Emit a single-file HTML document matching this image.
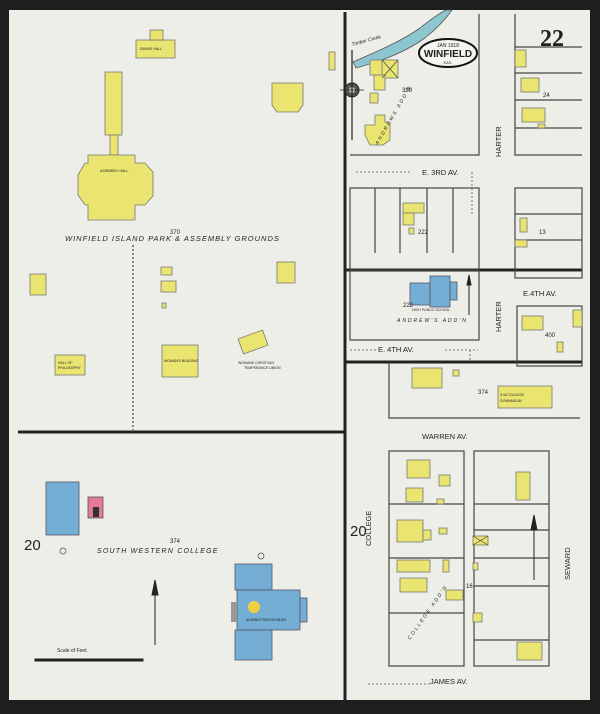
<!DOCTYPE html>
<html><head><meta charset="utf-8"><style>
html,body{margin:0;padding:0;background:#1e1e1e;}
svg{display:block}
text{font-family:"Liberation Sans",sans-serif;fill:#222}
</style></head><body>
<svg width="600" height="714" viewBox="0 0 600 714" xmlns="http://www.w3.org/2000/svg">
<rect x="0" y="0" width="600" height="714" fill="#1e1e1e"/>
<rect x="9" y="10" width="581" height="690" fill="#eeeee9"/>
<g stroke="#222" fill="none">
<line x1="345" y1="12" x2="345" y2="700" stroke-width="3"/>
<line x1="18" y1="432" x2="345" y2="432" stroke-width="3"/>
<line x1="345" y1="270" x2="582" y2="270" stroke-width="3"/>
<line x1="345" y1="362" x2="582" y2="362" stroke-width="3"/>
<g stroke-width="1.2" stroke="#444">
<polyline points="350,155 479,155 479,14"/>
<rect x="350" y="188" width="129" height="82"/>
<rect x="350" y="270" width="129" height="70"/>
<polyline points="515,14 515,155 582,155"/>
<rect x="515" y="188" width="67" height="90"/>
<rect x="517" y="306" width="65" height="60"/>
<line x1="515" y1="47" x2="582" y2="47"/><line x1="515" y1="73" x2="582" y2="73"/><line x1="515" y1="100" x2="582" y2="100"/><line x1="515" y1="128" x2="582" y2="128"/>
<line x1="515" y1="214" x2="582" y2="214"/><line x1="515" y1="240" x2="582" y2="240"/>
<line x1="375" y1="188" x2="375" y2="253"/><line x1="400" y1="188" x2="400" y2="253"/><line x1="427" y1="188" x2="427" y2="253"/><line x1="453" y1="188" x2="453" y2="253"/>
<polyline points="389,362 389,418 580,418"/>
<rect x="389" y="451" width="75" height="215"/>
<rect x="474" y="451" width="75" height="215"/>
<line x1="389" y1="504" x2="464" y2="504"/><line x1="389" y1="558" x2="464" y2="558"/><line x1="389" y1="613" x2="464" y2="613"/>
<line x1="474" y1="504" x2="549" y2="504"/><line x1="474" y1="530" x2="549" y2="530"/><line x1="474" y1="558" x2="549" y2="558"/><line x1="474" y1="586" x2="549" y2="586"/><line x1="474" y1="640" x2="549" y2="640"/>
</g>
<line x1="133" y1="245" x2="133" y2="430" stroke-dasharray="2,2" stroke-width="1"/>
<g stroke-width="0.8" stroke-dasharray="2,2" stroke="#555">
<line x1="368" y1="684" x2="430" y2="684"/><line x1="470" y1="350" x2="470" y2="362"/>
<line x1="356" y1="172" x2="410" y2="172"/><line x1="472" y1="172" x2="472" y2="215"/>
<line x1="350" y1="350" x2="376" y2="350"/><line x1="445" y1="350" x2="478" y2="350"/>
</g>
</g>
<!-- creek -->
<path d="M353,62 C380,50 400,42 420,28 C430,20 438,14 446,10 L452,10 C445,20 435,30 425,38 C405,52 385,60 356,68 Z" fill="#8ec6cf" stroke="#555" stroke-width="0.8"/>
<text x="352" y="46" font-size="5" font-style="italic" transform="rotate(-15 352 46)">Timber Creek</text>
<!-- yellow buildings -->
<g fill="#e9e570" stroke="#777" stroke-width="0.8">
<rect x="136" y="40" width="39" height="18"/><rect x="150" y="30" width="13" height="10"/>
<rect x="105" y="72" width="17" height="63"/><rect x="110" y="135" width="8" height="20"/>
<polygon points="88,155 135,155 135,163 145,163 153,172 153,196 145,205 135,205 135,220 88,220 88,205 85,205 78,195 78,175 85,163 88,163"/>
<rect x="329" y="52" width="6" height="18"/>
<polygon points="272,83 303,83 303,105 298,112 277,112 272,105"/>
<rect x="30" y="274" width="16" height="21"/>
<rect x="161" y="267" width="11" height="8"/><rect x="161" y="281" width="15" height="11"/><rect x="162" y="303" width="4" height="5"/>
<rect x="277" y="262" width="18" height="21"/>
<rect x="55" y="355" width="30" height="20"/>
<rect x="162" y="345" width="36" height="32"/>
<rect x="240" y="334" width="26" height="16" transform="rotate(-20 253 342)"/>
<rect x="370" y="60" width="13" height="15"/><rect x="382" y="60" width="16" height="18"/><rect x="374" y="75" width="11" height="15"/><rect x="370" y="93" width="8" height="10"/>
<polygon points="375,115 385,115 385,122 390,122 390,140 383,145 370,145 365,135 365,125 375,125"/>
<rect x="515" y="50" width="11" height="17"/><rect x="521" y="78" width="18" height="14"/><rect x="522" y="108" width="23" height="14"/><rect x="538" y="124" width="7" height="4"/>
<rect x="520" y="218" width="7" height="14"/><rect x="515" y="240" width="12" height="7"/>
<rect x="403" y="203" width="21" height="10"/><rect x="403" y="213" width="11" height="12"/><rect x="409" y="228" width="5" height="6"/>
<rect x="522" y="316" width="21" height="14"/><rect x="573" y="310" width="9" height="17"/><rect x="557" y="342" width="6" height="10"/>
<rect x="412" y="368" width="30" height="20"/><rect x="453" y="370" width="6" height="6"/>
<rect x="498" y="386" width="54" height="22"/>
<rect x="407" y="460" width="23" height="18"/><rect x="439" y="475" width="11" height="11"/><rect x="406" y="488" width="17" height="14"/><rect x="437" y="499" width="7" height="5"/>
<rect x="397" y="520" width="26" height="22"/><rect x="423" y="530" width="8" height="10"/><rect x="439" y="528" width="8" height="6"/>
<rect x="397" y="560" width="33" height="12"/><rect x="443" y="560" width="6" height="12"/><rect x="400" y="578" width="27" height="14"/><rect x="446" y="590" width="17" height="10"/>
<rect x="473" y="536" width="15" height="9"/><rect x="473" y="563" width="5" height="7"/><rect x="473" y="613" width="9" height="9"/>
<rect x="516" y="472" width="14" height="28"/><rect x="517" y="642" width="25" height="18"/>
</g>
<g stroke="#444" stroke-width="0.7" fill="none">
<path d="M382,60 L398,78 M398,60 L382,78"/><path d="M473,536 L488,545 M488,536 L473,545"/>
<circle cx="63" cy="551" r="3"/><circle cx="261" cy="556" r="3"/>
</g>
<!-- blue -->
<g fill="#74aed4" stroke="#556" stroke-width="0.8">
<rect x="46" y="482" width="33" height="53"/>
<rect x="410" y="283" width="20" height="22"/><rect x="430" y="276" width="20" height="31"/><rect x="450" y="282" width="7" height="18"/>
<rect x="235" y="564" width="37" height="26"/>
<rect x="237" y="590" width="63" height="40"/>
<rect x="300" y="598" width="7" height="24"/>
<rect x="235" y="630" width="37" height="30"/>
</g>
<rect x="231" y="602" width="6" height="20" fill="#999"/>
<circle cx="254" cy="607" r="6" fill="#f0d040"/>
<rect x="88" y="497" width="15" height="21" fill="#e57a98" stroke="#555" stroke-width="0.8"/>
<rect x="93" y="507" width="6" height="10" fill="#333"/>
<!-- oval -->
<ellipse cx="448" cy="53" rx="29" ry="14" fill="#f4f4f0" stroke="#111" stroke-width="2"/>
<text x="448" y="47" font-size="5" text-anchor="middle">JAN 1918</text>
<text x="448" y="57" font-size="10" text-anchor="middle" font-weight="bold">WINFIELD</text>
<text x="448" y="64" font-size="4" text-anchor="middle">KAS.</text>
<text x="540" y="46" font-size="24" font-weight="bold" style="font-family:'Liberation Serif',serif">22</text>
<!-- compass -->
<circle cx="352" cy="90" r="7" fill="#555" stroke="#222"/><circle cx="352" cy="90" r="3" fill="#ccc"/>
<line x1="352" y1="50" x2="352" y2="140" stroke="#222" stroke-width="1.2"/>
<line x1="340" y1="90" x2="364" y2="90" stroke="#222" stroke-width="0.8"/>
<!-- north arrows -->
<g stroke="#222" fill="#222">
<line x1="155" y1="585" x2="155" y2="645"/><polygon points="155,580 152,595 158,595"/>
<line x1="469" y1="277" x2="469" y2="315"/><polygon points="469,275 467,285 471,285"/>
<line x1="534" y1="520" x2="534" y2="580"/><polygon points="534,515 531,530 537,530"/>
<rect x="35" y="659" width="108" height="2"/>
</g>
<g font-size="6">
<text x="170" y="234">370</text>
<text x="402" y="92">399</text><text x="543" y="97">24</text><text x="539" y="234">13</text>
<text x="418" y="234">222</text><text x="403" y="307">222</text><text x="545" y="337">400</text>
<text x="478" y="394">374</text><text x="170" y="543">374</text><text x="57" y="652" font-size="5">Scale of Feet.</text>
<text x="466" y="588" font-size="6">16</text>
</g>
<g font-size="3.5">
<text x="140" y="50">DINING HALL</text><text x="100" y="172">ASSEMBLY HALL</text>
<text x="58" y="364">HALL OF</text><text x="58" y="369">PHILOSOPHY</text>
<text x="164" y="362">WOMAN'S BUILDING</text>
<text x="238" y="364">WOMANS CHRISTIAN</text><text x="244" y="369">TEMPERANCE UNION</text>
<text x="500" y="396">S.W.COLLEGE</text><text x="500" y="402">GYMNASIUM</text>
<text x="412" y="311">HIGH PUBLIC SCHOOL</text>
<text x="246" y="621">ADMINISTRATION BLDG</text>
</g>
<g font-size="5" font-style="italic" letter-spacing="2">
<text x="397" y="322">ANDREW'S ADD'N</text>
<text transform="translate(378,145) rotate(-60)">ANDREWS ADD'N</text>
<text transform="translate(410,640) rotate(-55)">COLLEGE ADD'N</text>
</g>
<text x="65" y="241" font-size="7.5" font-style="italic" letter-spacing="1">WINFIELD ISLAND PARK &amp; ASSEMBLY GROUNDS</text>
<text x="97" y="553" font-size="7" font-style="italic" letter-spacing="1.2">SOUTH WESTERN COLLEGE</text>
<text x="24" y="550" font-size="15">20</text>
<text x="350" y="536" font-size="15">20</text>
<g font-size="7.5">
<text x="422" y="175">E. 3RD AV.</text>
<text x="523" y="296">E.4TH  AV.</text>
<text x="378" y="352">E. 4TH      AV.</text>
<text x="422" y="439">WARREN       AV.</text>
<text x="430" y="684">JAMES       AV.</text>
<text transform="translate(501,157) rotate(-90)">HARTER</text>
<text transform="translate(501,332) rotate(-90)">HARTER</text>
<text transform="translate(371,546) rotate(-90)">COLLEGE</text>
<text transform="translate(570,580) rotate(-90)">SEWARD</text>
</g>
</svg>
</body></html>
